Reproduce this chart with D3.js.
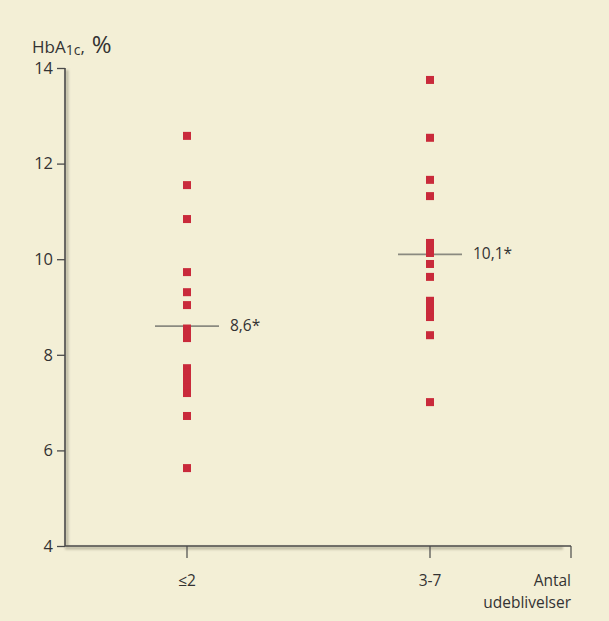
<!DOCTYPE html>
<html>
<head>
<meta charset="utf-8">
<script src="https://cdn.jsdelivr.net/npm/d3@7/dist/d3.min.js"></script>
<style>
  html, body { margin: 0; padding: 0; background: #f3efd6; }
  svg { display: block; }
  text { font-family: "Open Sans", "Liberation Sans", sans-serif; fill: #333; }
</style>
</head>
<body>
<svg id="chart" width="609" height="621"></svg>
<script>
// ---- data ----
const categories = ["≤2", "3-7"];
const groupLow = [12.58, 11.55, 10.84, 9.73, 9.31, 9.04, 8.55, 8.45, 8.35,
                  7.72, 7.62, 7.51, 7.41, 7.31, 7.2, 6.72, 5.63];
const groupHigh = [13.75, 12.54, 11.66, 11.32, 10.34, 10.23, 10.13, 9.9, 9.63,
                   9.13, 9.0, 8.87, 8.79, 8.41, 7.01];
const means = [8.6, 10.1];
const meanLabels = ["8,6*", "10,1*"];
const yTicks = [4, 6, 8, 10, 12, 14];

// ---- layout ----
const svg = d3.select("#chart");
const axisLeftX = 65, axisBottomY = 546, axisTopY = 68, axisRightX = 571;

const y = d3.scaleLinear().domain([4, 14]).range([axisBottomY, axisTopY]);
const x = d3.scaleOrdinal().domain(categories.concat(["end"])).range([187, 430, axisRightX]);

svg.append("rect").attr("width", 609).attr("height", 621).attr("fill", "#f3efd6");

const defs = svg.append("defs");
defs.append("filter").attr("id", "soft")
  .append("feGaussianBlur").attr("stdDeviation", 0.7);
defs.append("filter").attr("id", "shadow")
  .append("feGaussianBlur").attr("stdDeviation", 1.2);

// axis shadows
const sh = svg.append("g").attr("filter", "url(#shadow)").attr("stroke", "#bdb9a2").attr("stroke-width", 3);
sh.append("line").attr("x1", axisLeftX + 2).attr("x2", axisLeftX + 2).attr("y1", axisTopY + 2).attr("y2", axisBottomY);
sh.append("line").attr("x1", axisLeftX).attr("x2", axisRightX - 8).attr("y1", axisBottomY + 2).attr("y2", axisBottomY + 2);

// y axis
const yAxis = svg.append("g")
  .attr("transform", `translate(${axisLeftX},0)`)
  .call(d3.axisLeft(y).tickValues(yTicks).tickSize(8).tickPadding(4).tickFormat(d3.format("d")));
yAxis.select(".domain").remove();
yAxis.selectAll(".tick line").attr("stroke", "#4a4a4a").attr("stroke-width", 1.3);
yAxis.selectAll(".tick text").attr("font-size", 16.5).attr("fill", "#333")
  .style("font-family", '"Open Sans", "Liberation Sans", sans-serif');
svg.append("line").attr("x1", axisLeftX).attr("x2", axisLeftX)
  .attr("y1", y(14)).attr("y2", y(4)).attr("stroke", "#4a4a4a").attr("stroke-width", 1.6);

// x axis
svg.append("line").attr("x1", axisLeftX).attr("x2", axisRightX)
  .attr("y1", axisBottomY).attr("y2", axisBottomY).attr("stroke", "#4a4a4a").attr("stroke-width", 1.6);
svg.selectAll(".xtick").data(categories.concat(["end"])).enter().append("line")
  .attr("x1", d => x(d)).attr("x2", d => x(d))
  .attr("y1", axisBottomY).attr("y2", axisBottomY + 12)
  .attr("stroke", "#4a4a4a").attr("stroke-width", 1.2);
svg.selectAll(".xlab").data(categories).enter().append("text")
  .attr("x", d => x(d)).attr("y", 586).attr("text-anchor", "middle")
  .attr("font-size", 15.5).text(d => d);
svg.append("text").attr("x", axisRightX).attr("y", 586).attr("text-anchor", "end")
  .attr("font-size", 15.5).text("Antal");
svg.append("text").attr("x", axisRightX).attr("y", 608).attr("text-anchor", "end")
  .attr("font-size", 15.5).text("udeblivelser");

// y title
const t = svg.append("text").attr("x", 32).attr("y", 53);
t.append("tspan").attr("font-size", 17).text("HbA");
t.append("tspan").attr("font-size", 14).attr("dy", 2).text("1c");
t.append("tspan").attr("font-size", 17).attr("dy", -2).text(",");
t.append("tspan").attr("font-size", 24).attr("dx", 7).text("%");

// mean lines
const groups = [groupLow, groupHigh];
svg.selectAll(".mean").data(means).enter().append("line")
  .attr("x1", (d, i) => x(categories[i]) - 32).attr("x2", (d, i) => x(categories[i]) + 32)
  .attr("y1", d => y(d)).attr("y2", d => y(d))
  .attr("stroke", "#8a8a80").attr("stroke-width", 1.6);

// points
const pts = [];
groups.forEach((g, i) => g.forEach(v => pts.push({ cat: categories[i], v })));
svg.append("g").attr("filter", "url(#soft)")
  .selectAll("rect").data(pts).enter().append("rect")
  .attr("x", d => x(d.cat) - 4).attr("y", d => y(d.v) - 4)
  .attr("width", 8).attr("height", 8)
  .attr("fill", "#c92c3a");

// mean labels
svg.selectAll(".mlab").data(means).enter().append("text")
  .attr("x", (d, i) => x(categories[i]) + 43).attr("y", d => y(d) + 5)
  .attr("font-size", 15.5).text((d, i) => meanLabels[i]);
</script>
</body>
</html>
